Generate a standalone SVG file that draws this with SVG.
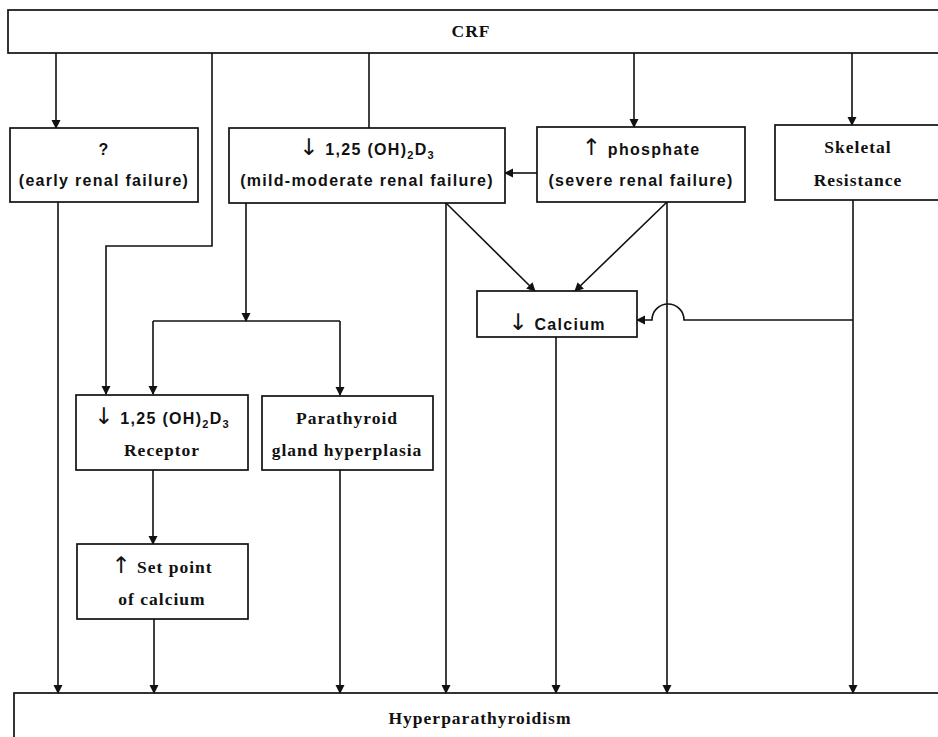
<svg xmlns="http://www.w3.org/2000/svg" width="938" height="737" viewBox="0 0 938 737">
<defs>
<marker id="ah" markerUnits="userSpaceOnUse" markerWidth="10" markerHeight="10" refX="8" refY="4.5" orient="auto">
<path d="M0,0 L9,4.5 L0,9 Z" fill="#111"/>
</marker>
<style>
.box{fill:#fff;stroke:#111;stroke-width:1.7}
.c{fill:none;stroke:#111;stroke-width:1.6}
.a{marker-end:url(#ah)}
.t{font-family:"Liberation Sans","DejaVu Sans",sans-serif;font-size:16px;font-weight:bold;letter-spacing:1.3px;fill:#111;text-anchor:middle}
.s{font-family:"Liberation Serif","DejaVu Serif",serif;font-size:17.5px;font-weight:bold;letter-spacing:1px;fill:#111;text-anchor:middle}
.sub{font-size:11px}
.ar{font-family:"DejaVu Sans",sans-serif;font-weight:normal;font-size:23px;fill:#111}
</style>
</defs>
<rect width="938" height="737" fill="#fff"/>

<g id="connectors">
<path class="c a" d="M56 53 V128"/>
<path class="c a" d="M212 53 V246 H106 V394"/>
<path class="c" d="M369 53 V128"/>
<path class="c a" d="M634 53 V127"/>
<path class="c a" d="M852 53 V125"/>
<path class="c a" d="M537 173 H505"/>
<path class="c a" d="M58 202 V693"/>
<path class="c a" d="M246 202 V321"/>
<path class="c" d="M153 321 H340"/>
<path class="c a" d="M153 321 V394"/>
<path class="c a" d="M340 321 V395"/>
<path class="c a" d="M446 203 V693"/>
<path class="c a" d="M446 203 L535 291"/>
<path class="c a" d="M667 202 L575 291"/>
<path class="c a" d="M667 202 V693"/>
<path class="c a" d="M853 200 V693"/>
<path class="c a" d="M853 320 H684 A16 16 0 0 0 652 320 H637"/>
<path class="c a" d="M556 337 V693"/>
<path class="c a" d="M153 470 V544"/>
<path class="c a" d="M154 619 V693"/>
<path class="c a" d="M340 470 V693"/>
</g>

<g id="crf">
<rect class="box" x="8" y="10" width="940" height="43"/>
<text class="s" x="471" y="37">CRF</text>
</g>

<g id="early">
<rect class="box" x="10" y="128" width="188" height="74"/>
<text class="t" x="104" y="155">?</text>
<text class="t" x="104" y="186">(early renal failure)</text>
</g>

<g id="mild">
<rect class="box" x="229" y="128" width="276" height="75"/>
<text class="t" x="367" y="155"><tspan class="ar">↓</tspan> 1,25 (OH)<tspan class="sub" dy="4">2</tspan><tspan dy="-4">D</tspan><tspan class="sub" dy="4">3</tspan></text>
<text class="t" x="367" y="186">(mild-moderate renal failure)</text>
</g>

<g id="phosphate">
<rect class="box" x="537" y="127" width="208" height="75"/>
<text class="t" x="641" y="155"><tspan class="ar">↑</tspan> phosphate</text>
<text class="t" x="641" y="186">(severe renal failure)</text>
</g>

<g id="skeletal">
<rect class="box" x="775" y="125" width="180" height="75"/>
<text class="s" x="858" y="153">Skeletal</text>
<text class="s" x="858" y="186">Resistance</text>
</g>

<g id="calcium">
<rect class="box" x="477" y="291" width="160" height="46"/>
<text class="t" x="557" y="330"><tspan class="ar">↓</tspan> Calcium</text>
</g>

<g id="receptor">
<rect class="box" x="76" y="395" width="172" height="75"/>
<text class="t" x="162" y="424"><tspan class="ar">↓</tspan> 1,25 (OH)<tspan class="sub" dy="4">2</tspan><tspan dy="-4">D</tspan><tspan class="sub" dy="4">3</tspan></text>
<text class="s" x="162" y="456">Receptor</text>
</g>

<g id="parathyroid">
<rect class="box" x="262" y="396" width="171" height="74"/>
<text class="s" x="347" y="424">Parathyroid</text>
<text class="s" x="347" y="456">gland hyperplasia</text>
</g>

<g id="setpoint">
<rect class="box" x="77" y="544" width="171" height="75"/>
<text class="s" x="162" y="573"><tspan class="ar">↑</tspan> Set point</text>
<text class="s" x="162" y="605">of calcium</text>
</g>

<g id="hyper">
<rect class="box" x="14" y="693" width="940" height="60"/>
<text class="s" x="480" y="724">Hyperparathyroidism</text>
</g>
</svg>
